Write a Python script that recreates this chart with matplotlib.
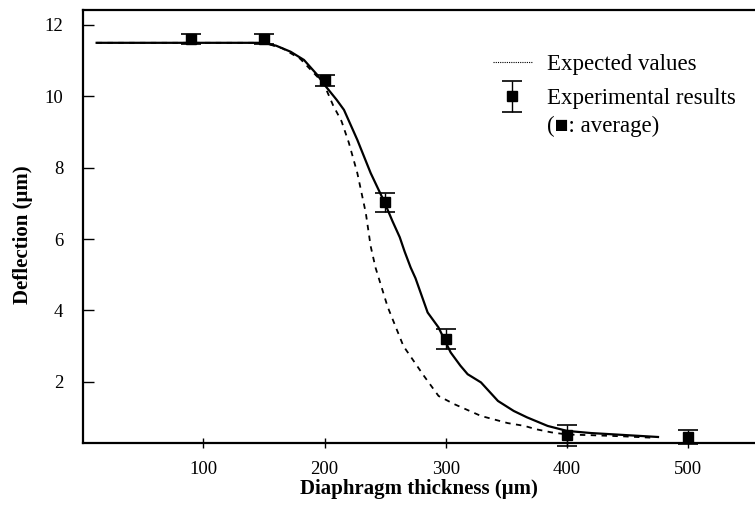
import matplotlib
matplotlib.use("Agg")
import matplotlib.pyplot as plt
from matplotlib.lines import Line2D
from matplotlib.legend_handler import HandlerErrorbar

plt.rcParams.update({"font.family": ["Liberation Serif", "DejaVu Sans"], "font.size": 12})

# measured points (mean +- error)
exp_x = [90, 150, 200, 250, 300, 400, 500]
exp_y = [11.6, 11.6, 10.45, 7.03, 3.19, 0.5, 0.45]
exp_err = [0.14, 0.14, 0.15, 0.27, 0.28, 0.3, 0.2]

# fitted curve through experimental results (solid)
fit_x = [12, 60, 100, 150, 160, 172, 183, 194, 200, 210, 216, 227, 238, 249, 256, 262, 266, 271,
         275, 285, 294, 304, 312, 318, 329, 343, 356, 367, 384, 400, 420, 440, 460, 475]
fit_y = [11.5, 11.5, 11.5, 11.5, 11.42, 11.25, 11.02, 10.6, 10.32, 9.9, 9.62, 8.78, 7.85, 7.06, 6.5, 6.05, 5.65, 5.2,
         4.9, 3.94, 3.52, 2.82, 2.45, 2.21, 1.98, 1.46, 1.18, 1.0, 0.76, 0.62, 0.56, 0.52, 0.48, 0.45]

# expected values (dashed)
expct_x = [12, 100, 150, 165, 180, 194, 200, 207, 214, 220, 227, 234, 238, 242, 252, 265, 282, 294, 307,
           329, 351, 365, 374, 387, 400, 420, 445, 470]
expct_y = [11.5, 11.5, 11.5, 11.35, 11.05, 10.55, 10.3, 9.75, 9.3, 8.7, 7.85, 6.73, 5.8, 5.2, 4.1, 3.0, 2.16, 1.6, 1.37,
           1.04, 0.84, 0.76, 0.67, 0.58, 0.52, 0.5, 0.47, 0.43]

xticks = [100, 200, 300, 400, 500]
yticks = [2, 4, 6, 8, 10, 12]

fig = plt.figure(figsize=(7.55, 5.16), dpi=100)
ax = fig.add_axes([83.3/755, (516-442.7)/516, 1-83.3/755, (442.7-10)/516])

ax.plot(fit_x, fit_y, color="black", lw=1.6, zorder=3)
ax.plot(expct_x, expct_y, color="black", lw=1.3, dashes=(3, 3), zorder=2)
eb = ax.errorbar(exp_x, exp_y, yerr=exp_err, fmt="s", color="black", ms=7.5, capsize=7,
                 elinewidth=1.0, capthick=1.2, zorder=4, clip_on=False)
for a in eb.lines[1] + eb.lines[2]:
    a.set_clip_on(False)

ax.set_xlim(1, 555)
ax.set_ylim(0.29, 12.42)
ax.set_xticks(xticks)
ax.set_yticks(yticks)
ax.tick_params(axis="y", direction="in", length=7.7, width=1.0, pad=14.4, labelsize=13.5)
ax.tick_params(axis="x", direction="inout", length=7.7, width=1.0, pad=9.5, labelsize=13.5)
for s in ["left", "bottom", "top"]:
    ax.spines[s].set_linewidth(1.6)
ax.spines["right"].set_visible(False)

ax.set_xlabel("Diaphragm thickness (\u03bcm)", fontsize=15, fontweight="bold")
ax.set_ylabel("Deflection (\u03bcm)", fontsize=15, fontweight="bold")
ax.xaxis.set_label_coords(0.5, -0.085)
ax.yaxis.set_label_coords(-0.075, 0.48)

leg_line = Line2D([], [], color="black", lw=0.8, ls=(0, (1, 1)))
ax.legend([leg_line, eb], ["Expected values", "Experimental results"], loc="upper left",
          bbox_to_anchor=((493-83.3)/671.7, (442.7-54)/432.7), frameon=False, fontsize=16.5,
          handlelength=1.7, handletextpad=0.64, labelspacing=0.58, borderpad=0, borderaxespad=0,
          handler_map={type(eb): HandlerErrorbar(yerr_size=0.68)})
ax.text((546.7-83.3)/671.7, (442.7-126)/432.7, "(\u25a0: average)", transform=ax.transAxes,
        fontsize=16.5, va="center", ha="left", family=["Liberation Serif", "DejaVu Sans"])

fig.savefig("out.png", dpi=100)
